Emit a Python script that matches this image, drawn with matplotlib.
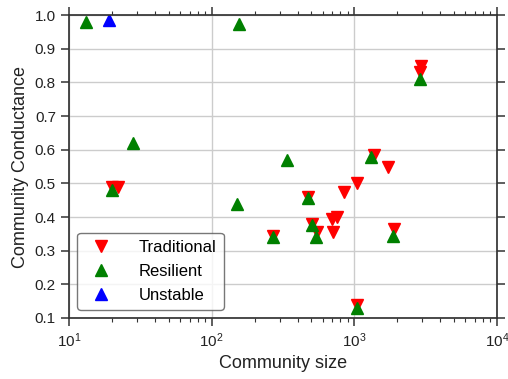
import matplotlib.pyplot as plt
import numpy as np

plt.rcParams["font.family"] = ["Liberation Sans", "DejaVu Sans"]

# Traditional communities (red, down triangles)
trad_size = [20, 22, 269, 473, 505, 545, 709, 700, 755, 845, 1042, 1370,
             1718, 2930, 2900, 1042, 1900]
trad_cond = [0.49, 0.49, 0.345, 0.46, 0.38, 0.355, 0.355, 0.395, 0.40,
             0.475, 0.50, 0.585, 0.55, 0.85, 0.83, 0.14, 0.365]

# Resilient communities (green, up triangles)
res_size = [13.2, 155, 28, 20, 150, 337, 1306, 2884, 269, 473, 505, 538,
            1042, 1862]
res_cond = [0.98, 0.975, 0.62, 0.48, 0.44, 0.57, 0.578, 0.81, 0.34, 0.456,
            0.375, 0.34, 0.13, 0.345]

# Unstable communities (blue, up triangles)
uns_size = [19]
uns_cond = [0.985]

fig = plt.figure(figsize=(5.08, 3.79), dpi=100)
ax = fig.add_axes([0.136, 0.161, 0.842, 0.799])

ax.plot(trad_size, trad_cond, linestyle="none", marker="v", color="red",
        markersize=9, label="Traditional")
ax.plot(res_size, res_cond, linestyle="none", marker="^", color="green",
        markersize=9, label="Resilient")
ax.plot(uns_size, uns_cond, linestyle="none", marker="^", color="blue",
        markersize=9, label="Unstable")

ax.set_xscale("log")
ax.set_xlim(10, 1e4)
ax.set_ylim(0.1, 1.0)
ax.set_yticks(np.arange(0.1, 1.01, 0.1))
ax.set_yticklabels([f"{v:.1f}" for v in np.arange(0.1, 1.01, 0.1)])

ax.grid(True, which="major", color="#cccccc", linewidth=1)
ax.set_axisbelow(True)
for spine in ax.spines.values():
    spine.set_color("#333333")
    spine.set_linewidth(1.25)
ax.tick_params(which="both", direction="out", top=True, right=True,
               color="#333333", labelsize=11, labelcolor="#222222")
ax.tick_params(which="major", length=6, width=1.1)
ax.tick_params(which="minor", length=3, width=0.8)

ax.set_xlabel("Community size", fontsize=13, color="#222222")
ax.set_ylabel("Community Conductance", fontsize=13, color="#222222")

leg = ax.legend(loc="lower left", fontsize=12, numpoints=1, frameon=True,
                fancybox=True, edgecolor="#555555", handletextpad=1.3,
                labelspacing=0.55)

fig.savefig("out.png", dpi=100)
